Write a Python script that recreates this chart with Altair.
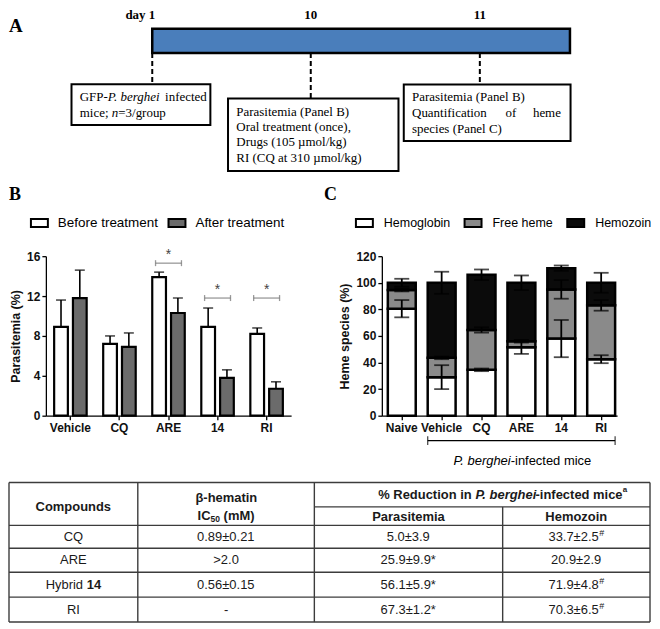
import altair as alt
import numpy as np
import pandas as pd

# ======================= values =======================
# Panel A - timeline
timeline_days = [1, 10, 11]
timeline_day_labels = ["day 1", "10", "11"]
a_box1_lines = [[("GFP-", "n"), ("P. berghei", "i"), (" infected", "n")],
                [("mice; ", "n"), ("n", "i"), ("=3/group", "n")]]
a_box2_lines = [[("Parasitemia (Panel B)", "n")],
                [("Oral treatment (once),", "n")],
                [("Drugs (105 µmol/kg)", "n")],
                [("RI (CQ at 310 µmol/kg)", "n")]]
a_box3_lines = [[("Parasitemia (Panel B)", "n")],
                [("Quantification", "n")],
                [("species (Panel C)", "n")]]
a_box3_justified = ["of", "heme"]

# Panel B - parasitemia (%)
b_groups = ["Vehicle", "CQ", "ARE", "14", "RI"]
b_treatments = ["Before treatment", "After treatment"]
b_before = [8.9, 7.2, 13.9, 8.9, 8.2]
b_before_sd = [2.7, 0.8, 0.5, 1.9, 0.6]
b_after = [11.8, 6.9, 10.3, 3.8, 2.7]
b_after_sd = [2.8, 1.4, 1.5, 0.8, 0.7]
b_sig_groups = ["ARE", "14", "RI"]
b_sig_level = [15.3, 11.8, 11.8]

# Panel C - heme species (%)
c_groups = ["Naive", "Vehicle", "CQ", "ARE", "14", "RI"]
c_species = ["Hemoglobin", "Free heme", "Hemozoin"]
c_hemoglobin = [80.5, 29.0, 34.5, 51.5, 58.0, 42.5]
c_free_heme = [14.0, 14.5, 30.0, 4.5, 37.0, 40.5]
c_hemozoin = [5.5, 56.5, 41.5, 44.0, 16.0, 17.0]
c_hemoglobin_sd = [6.5, 9.0, 1.0, 5.0, 14.0, 3.0]
c_free_heme_sd = [1.0, 1.0, 2.0, 1.0, 7.0, 4.0]
c_hemozoin_sd = [3.0, 8.3, 4.0, 5.5, 2.0, 7.5]
c_infected_span = ["Vehicle", "RI"]

# Table
t_compounds = ["CQ", "ARE", "Hybrid 14", "RI"]
t_ic50 = ["0.89±0.21", ">2.0", "0.56±0.15", "-"]
t_parasitemia = ["5.0±3.9", "25.9±9.9*", "56.1±5.9*", "67.3±1.2*"]
t_hemozoin = ["33.7±2.5", "20.9±2.9", "71.9±4.8", "70.3±6.5"]
t_hemozoin_note = ["#", "", "#", "#"]

# ======================= fonts / text metrics =======================
SANS = "Liberation Sans"
SERIF = "Liberation Serif"

ARIAL = {c: 556 for c in "0123456789"}
ARIAL.update({" ": 278, ".": 278, ",": 278, "±": 584, "*": 389, "#": 556, ">": 584, "-": 333,
              "(": 333, ")": 333, "%": 889, "/": 278, "A": 667, "B": 667, "C": 722, "E": 667,
              "H": 722, "I": 278, "M": 833, "P": 667, "Q": 778, "R": 722, "a": 556, "b": 556,
              "c": 500, "d": 556, "e": 556, "f": 278, "g": 556, "h": 556, "i": 222, "l": 222,
              "m": 833, "n": 556, "o": 556, "p": 556, "r": 333, "s": 500, "t": 278, "u": 556,
              "y": 500, "z": 500, "β": 569, "_": 556})
ARIAL_B = {c: 556 for c in "0123456789"}
ARIAL_B.update({" ": 278, ".": 278, "%": 889, "-": 333, "(": 333, ")": 333, "C": 722, "H": 722,
                "I": 278, "M": 833, "P": 667, "R": 722, "a": 556, "b": 611, "c": 556, "d": 611,
                "e": 556, "f": 333, "g": 611, "h": 611, "i": 278, "m": 889, "n": 611, "o": 611,
                "p": 611, "r": 389, "s": 556, "t": 333, "u": 611, "z": 500, "l": 278, "_": 556})
TIMES = {c: 500 for c in "0123456789"}
TIMES.update({" ": 250, "(": 333, ")": 333, ",": 250, "-": 333, ".": 250, "/": 278, ";": 278,
              "=": 564, "A": 722, "B": 667, "C": 667, "D": 722, "F": 556, "G": 722, "I": 333,
              "O": 722, "P": 556, "Q": 722, "R": 667, "a": 444, "b": 500, "c": 444, "d": 500,
              "e": 444, "f": 333, "g": 500, "h": 500, "i": 278, "k": 500, "l": 278, "m": 778,
              "n": 500, "o": 500, "p": 500, "r": 333, "s": 389, "t": 278, "u": 500, "y": 500,
              "µ": 500, "_": 500})
TIMES_I = dict(TIMES)
TIMES_I.update({"P": 611, "r": 389})


def tw(s, size, table):
    return sum(table.get(ch, table["_"]) for ch in s) * size / 1000.0


def compose(parts, styles, x_left=None, center=None, kern=None):
    kern = kern or {}
    widths = [tw(t, styles[s][1], styles[s][0]) + kern.get(s, 0.0) for t, s in parts]
    if x_left is None:
        x_left = center - sum(widths) / 2.0
    out, x = [], x_left
    for (t, s), w in zip(parts, widths):
        lead = len(t) - len(t.lstrip(" "))
        out.append(dict(px=x + tw(" " * lead, styles[s][1], styles[s][0]), text=t.strip(" "), style=s))
        x += w
    return out


one = pd.DataFrame({"k": [0]})


def vtext(txt, x, y, **kw):
    return alt.Chart(one).mark_text(text=txt, **kw).encode(x=alt.value(x), y=alt.value(y))


def vrect(x, x2, y, y2, **kw):
    return alt.Chart(one).mark_rect(**kw).encode(x=alt.value(x), x2=alt.value(x2),
                                                  y=alt.value(y), y2=alt.value(y2))


# all rows of the figure share the left origin of panel B's plot; A and the table
# are drawn relative to that origin
OX = -37

# ======================= Panel A =======================
day_scale = alt.Scale(type="linear", domain=timeline_days,
                      range=[143.7 + OX, 302.7 + OX, 472.3 + OX], zero=False, nice=False)
df_days = pd.DataFrame({"day": timeline_days, "label": timeline_day_labels})
xday = alt.X("day:Q", scale=day_scale, axis=None)

a_layers = [
    vtext("A", 0 + OX, 16.5, align="left", baseline="middle", font=SERIF, fontWeight="bold",
          fontSize=19, color="black"),
    alt.Chart(df_days.iloc[:1]).mark_rect(fill="#4a7ebb", stroke="black", strokeWidth=2.5).encode(
        x=xday, x2=alt.value(562.7 + OX), y=alt.value(18.8), y2=alt.value(43.2)),
    alt.Chart(df_days).mark_rule(strokeDash=[5, 3], strokeWidth=2, color="black").encode(
        x=xday, y=alt.value(43.2), y2=alt.value(88.8)),
    alt.Chart(df_days.iloc[:1]).mark_text(align="right", dx=3, font=SERIF, fontWeight="bold",
                                          fontSize=13, color="black").encode(
        x=xday, y=alt.value(5.5), text="label:N"),
    alt.Chart(df_days.iloc[1:]).mark_text(align="center", font=SERIF, fontWeight="bold",
                                          fontSize=13, color="black").encode(
        x=xday, y=alt.value(5.5), text="label:N"),
    vrect(62.7 + OX, 202 + OX, 74.5, 115.5, fill="white", stroke="black", strokeWidth=2),
    vrect(219.7 + OX, 390.7 + OX, 88.8, 161.5, fill="white", stroke="black", strokeWidth=2),
    vrect(396 + OX, 563.3 + OX, 74.8, 131.5, fill="white", stroke="black", strokeWidth=2),
]
styles_A = {"n": (TIMES, 13), "i": (TIMES_I, 13)}
a_segments = []
for lines, x0, ys in [(a_box1_lines, 71, [87.2, 103.8]),
                      (a_box2_lines, 228, [102.2, 117.8, 132.8, 148.8]),
                      (a_box3_lines, 404.3, [87.2, 103.2, 119.5])]:
    for line, y in zip(lines, ys):
        for seg in compose(line, styles_A, x_left=x0 + OX):
            a_segments.append((seg["px"], y, seg["text"], seg["style"]))
a_segments.append((498.0 + OX, 103.2, a_box3_justified[0], "n"))
a_segments.append((553.7 + OX - tw(a_box3_justified[1], 13, TIMES), 103.2, a_box3_justified[1], "n"))
for px, py, txt, st in a_segments:
    a_layers.append(vtext(txt, px, py, align="left", baseline="middle", font=SERIF, fontSize=13,
                          fontStyle="italic" if st == "i" else "normal", color="black"))
chartA = alt.layer(*a_layers).properties(width=560, height=162.5)

# ======================= Panel B =======================
dfB = pd.DataFrame({
    "group": b_groups * 2,
    "treatment": [b_treatments[0]] * len(b_groups) + [b_treatments[1]] * len(b_groups),
    "value": b_before + b_after,
    "sd": b_before_sd + b_after_sd,
})
dfB["hi"] = dfB["value"] + dfB["sd"]
xB = alt.X("group:N", sort=b_groups,
           scale=alt.Scale(domain=b_groups, paddingInner=0, paddingOuter=0),
           axis=alt.Axis(title=None, labelAngle=0, labelPadding=3))
xoB = alt.XOffset("treatment:N", sort=b_treatments,
                  scale=alt.Scale(domain=b_treatments, paddingInner=0.27, paddingOuter=0.44))
yB_scale = alt.Scale(domain=[0, 16], nice=False)
yB_axis = alt.Axis(values=[0, 4, 8, 12, 16], title="Parasitemia (%)", titlePadding=4)
RECT_PATH = "M-1,-0.47L1,-0.47L1,0.47L-1,0.47Z"

barsB = alt.Chart(dfB).mark_bar(stroke="black", strokeWidth=2.2).encode(
    x=xB, xOffset=xoB,
    y=alt.Y("value:Q", scale=yB_scale, axis=yB_axis),
    fill=alt.Fill("treatment:N", scale=alt.Scale(domain=b_treatments, range=["white", "#6b6b6b"]),
                  legend=alt.Legend(orient="none", legendX=-16, legendY=-43, direction="horizontal",
                                    title=None, symbolType=RECT_PATH, symbolSize=289,
                                    symbolStrokeColor="black", symbolStrokeWidth=2,
                                    labelFont=SANS, labelFontSize=13.5, labelColor="black",
                                    labelOffset=9, columnPadding=6)))
errB = alt.Chart(dfB).mark_rule(color="black", strokeWidth=1.6).encode(
    x=xB, xOffset=xoB, y=alt.Y("value:Q", scale=yB_scale, axis=yB_axis), y2="hi:Q")
capB = alt.Chart(dfB).mark_tick(color="black", orient="horizontal", size=10, thickness=1.6).encode(
    x=xB, xOffset=xoB, y=alt.Y("hi:Q", scale=yB_scale, axis=yB_axis))
dfSig = pd.DataFrame({"group": b_sig_groups, "level": b_sig_level})
ySig = alt.Y("level:Q", scale=yB_scale, axis=yB_axis)
sigB = [
    alt.Chart(dfSig).mark_tick(orient="horizontal", size=26, thickness=1.3, color="#6d6d6d").encode(
        x=xB, y=ySig),
    alt.Chart(dfSig).mark_tick(orient="vertical", size=6, thickness=1.3, color="#6d6d6d",
                               xOffset=-13).encode(x=xB, y=ySig),
    alt.Chart(dfSig).mark_tick(orient="vertical", size=6, thickness=1.3, color="#6d6d6d",
                               xOffset=13).encode(x=xB, y=ySig),
    alt.Chart(dfSig).mark_text(text="*", font=SANS, fontSize=14, color="#444444", dy=-8).encode(
        x=xB, y=ySig),
]
letterB = vtext("B", -37, -61, align="left", baseline="middle", font=SERIF, fontWeight="bold",
                fontSize=18, color="black")
chartB = alt.layer(barsB, errB, capB, *sigB, letterB).properties(width=246, height=160)

# ======================= Panel C =======================
rows = []
for i, g in enumerate(c_groups):
    vals = [c_hemoglobin[i], c_free_heme[i], c_hemozoin[i]]
    sds = [c_hemoglobin_sd[i], c_free_heme_sd[i], c_hemozoin_sd[i]]
    top = 0.0
    for j, s in enumerate(c_species):
        top += vals[j]
        rows.append(dict(group=g, species=s, order=j, value=vals[j], top=top,
                         lo=top - sds[j], hi=top + sds[j]))
dfC = pd.DataFrame(rows)
xC_scale = alt.Scale(domain=c_groups, paddingInner=0.3, paddingOuter=0.1, align=0.75)
xC_axis = alt.Axis(title=None, labelAngle=0, labelPadding=3)
xC = alt.X("group:N", sort=c_groups, scale=xC_scale, axis=xC_axis)
yC_scale = alt.Scale(domain=[0, 120], nice=False)
yC_axis = alt.Axis(values=[0, 20, 40, 60, 80, 100, 120], title="Heme species (%)", titlePadding=4)

barsC = alt.Chart(dfC).mark_bar(stroke="black", strokeWidth=2.5).encode(
    x=xC,
    y=alt.Y("value:Q", stack="zero", scale=yC_scale, axis=yC_axis),
    order=alt.Order("order:Q", sort="ascending"),
    fill=alt.Fill("species:N", scale=alt.Scale(domain=c_species, range=["white", "#8a8a8a", "#0b0b0b"]),
                  legend=alt.Legend(orient="none", legendX=-27, legendY=-43, direction="horizontal",
                                    title=None, symbolType=RECT_PATH, symbolSize=289,
                                    symbolStrokeColor="black", symbolStrokeWidth=2,
                                    labelFont=SANS, labelFontSize=12.5, labelColor="black",
                                    labelOffset=10, columnPadding=10)))
errC = alt.Chart(dfC).mark_rule(color="black", strokeWidth=1.8).encode(
    x=xC, y=alt.Y("lo:Q", scale=yC_scale, axis=yC_axis), y2="hi:Q")
capLoC = alt.Chart(dfC).mark_tick(color="black", orient="horizontal", size=15, thickness=1.8).encode(
    x=xC, y=alt.Y("lo:Q", scale=yC_scale, axis=yC_axis))
capHiC = alt.Chart(dfC).mark_tick(color="black", orient="horizontal", size=15, thickness=1.8).encode(
    x=xC, y=alt.Y("hi:Q", scale=yC_scale, axis=yC_axis))
dfSpan = pd.DataFrame({"start": [c_infected_span[0]], "end": [c_infected_span[1]]})
spanC = [
    alt.Chart(dfSpan).mark_rule(color="black", strokeWidth=1.3).encode(
        x=alt.X("start:N", bandPosition=0, sort=c_groups, scale=xC_scale, axis=xC_axis),
        x2=alt.X2("end:N", bandPosition=1), y=alt.value(185)),
    alt.Chart(dfSpan).mark_tick(color="black", orient="vertical", size=9, thickness=1.3).encode(
        x=alt.X("start:N", bandPosition=0, sort=c_groups, scale=xC_scale, axis=xC_axis),
        y=alt.value(185)),
    alt.Chart(dfSpan).mark_tick(color="black", orient="vertical", size=9, thickness=1.3).encode(
        x=alt.X("end:N", bandPosition=1, sort=c_groups, scale=xC_scale, axis=xC_axis),
        y=alt.value(185)),
]
ital_w = tw("P. berghei", 13, ARIAL)
spanText = [
    vtext("P. berghei", 70 + ital_w, 205, align="right", baseline="middle", font=SANS,
          fontSize=13, fontStyle="italic", color="black"),
    vtext("-infected mice", 70 + ital_w, 205, align="left", baseline="middle", font=SANS,
          fontSize=13, color="black"),
]
letterC = vtext("C", -58, -61, align="left", baseline="middle", font=SERIF, fontWeight="bold",
                fontSize=18, color="black")
chartC = alt.layer(barsC, errC, capLoC, capHiC, *spanC, *spanText, letterC).properties(
    width=236, height=160)

# ======================= Table =======================
col_px = [-37, 92.2, 269.3, 458.2, 606]
row_px = [0, 24.5, 43, 66, 90, 115, 140]
tx = alt.Scale(domain=[0, 1, 2, 3, 4], range=col_px, zero=False, nice=False)
ty = alt.Scale(domain=[0, 1, 2, 3, 4, 5, 6], range=row_px, zero=False, nice=False)
col_idx = [0, 1, 2, 3, 4]


def cx(c):
    return float(np.interp(c, col_idx, col_px))


styles_T = {"n": (ARIAL, 13), "b": (ARIAL_B, 13), "bi": (ARIAL_B, 13), "bsup": (ARIAL_B, 8),
            "bsub": (ARIAL_B, 8.5), "nsup": (ARIAL, 9)}
segs = []


def add(parts, col_center, yi):
    for s in compose(parts, styles_T, center=cx(col_center), kern={"bi": -2.5}):
        segs.append(dict(xi=float(np.interp(s["px"], col_px, col_idx)), yi=yi,
                         text=s["text"], style=s["style"]))


add([("Compounds", "b")], 0.5, 1.0)
add([("β-hematin", "b")], 1.5, 0.62)
add([("IC", "b"), ("50", "bsub"), (" (mM)", "b")], 1.5, 1.5)
add([("% Reduction in ", "b"), ("P. berghei", "bi"), ("-infected mice", "b"), ("a", "bsup")],
    0.5 * (2 + 4), 0.5)
add([("Parasitemia", "b")], 2.5, 1.55)
add([("Hemozoin", "b")], 3.5, 1.55)
for r in range(len(t_compounds)):
    yi = 2.5 + r
    name = t_compounds[r]
    if name.startswith("Hybrid "):
        add([("Hybrid ", "n"), (name.split(" ", 1)[1], "b")], 0.5, yi)
    else:
        add([(name, "n")], 0.5, yi)
    add([(t_ic50[r], "n")], 1.5, yi)
    add([(t_parasitemia[r], "n")], 2.5, yi)
    if t_hemozoin_note[r]:
        add([(t_hemozoin[r], "n"), (t_hemozoin_note[r], "nsup")], 3.5, yi)
    else:
        add([(t_hemozoin[r], "n")], 3.5, yi)
dfT = pd.DataFrame(segs)

h_rows = pd.DataFrame({"r": [0, 1, 2, 3, 4, 5, 6], "c0": [0, 2, 0, 0, 0, 0, 0], "c1": [4] * 7})
v_cols = pd.DataFrame({"c": [0, 1, 2, 3, 4], "r0": [0, 0, 0, 1, 0], "r1": [6] * 5})
LINE = "#3c3c3c"
t_layers = [
    alt.Chart(h_rows).mark_rule(color=LINE, strokeWidth=1.4).encode(
        x=alt.X("c0:Q", scale=tx, axis=None), x2="c1:Q", y=alt.Y("r:Q", scale=ty, axis=None)),
    alt.Chart(v_cols).mark_rule(color=LINE, strokeWidth=1.4).encode(
        x=alt.X("c:Q", scale=tx, axis=None), y=alt.Y("r0:Q", scale=ty, axis=None), y2="r1:Q"),
]
style_props = {
    "n": dict(fontSize=13),
    "b": dict(fontSize=13, fontWeight="bold"),
    "bi": dict(fontSize=13, fontWeight="bold", fontStyle="italic"),
    "bsup": dict(fontSize=8, fontWeight="bold", dy=-5),
    "bsub": dict(fontSize=8.5, fontWeight="bold", dy=3),
    "nsup": dict(fontSize=9, dy=-4),
}
for st, props in style_props.items():
    sub = dfT[dfT["style"] == st]
    if len(sub) == 0:
        continue
    t_layers.append(alt.Chart(sub).mark_text(align="left", baseline="middle", font=SANS,
                                             color="#1a1a1a", **props).encode(
        x=alt.X("xi:Q", scale=tx, axis=None), y=alt.Y("yi:Q", scale=ty, axis=None), text="text:N"))
chartT = alt.layer(*t_layers).properties(width=590, height=140)

# ======================= assemble =======================
row2 = alt.hconcat(chartB, chartC, spacing=33).resolve_scale(fill="independent").resolve_legend(
    fill="independent")
chart = alt.vconcat(chartA, row2, chartT, spacing=14).resolve_scale(
    fill="independent").resolve_legend(fill="independent").properties(padding=0)
chart = chart.configure(font=SANS).configure_view(stroke=None).configure_axis(
    labelFont=SANS, labelFontWeight="bold", labelFontSize=12, labelColor="#111",
    titleFont=SANS, titleFontWeight="bold", titleFontSize=12.5, titleColor="#111",
    domainColor="black", domainWidth=1.3, tickColor="black", tickWidth=1.3, tickSize=4,
    grid=False, labelPadding=2)

chart.save("out.html", embed_options={"renderer": "svg", "actions": False})
